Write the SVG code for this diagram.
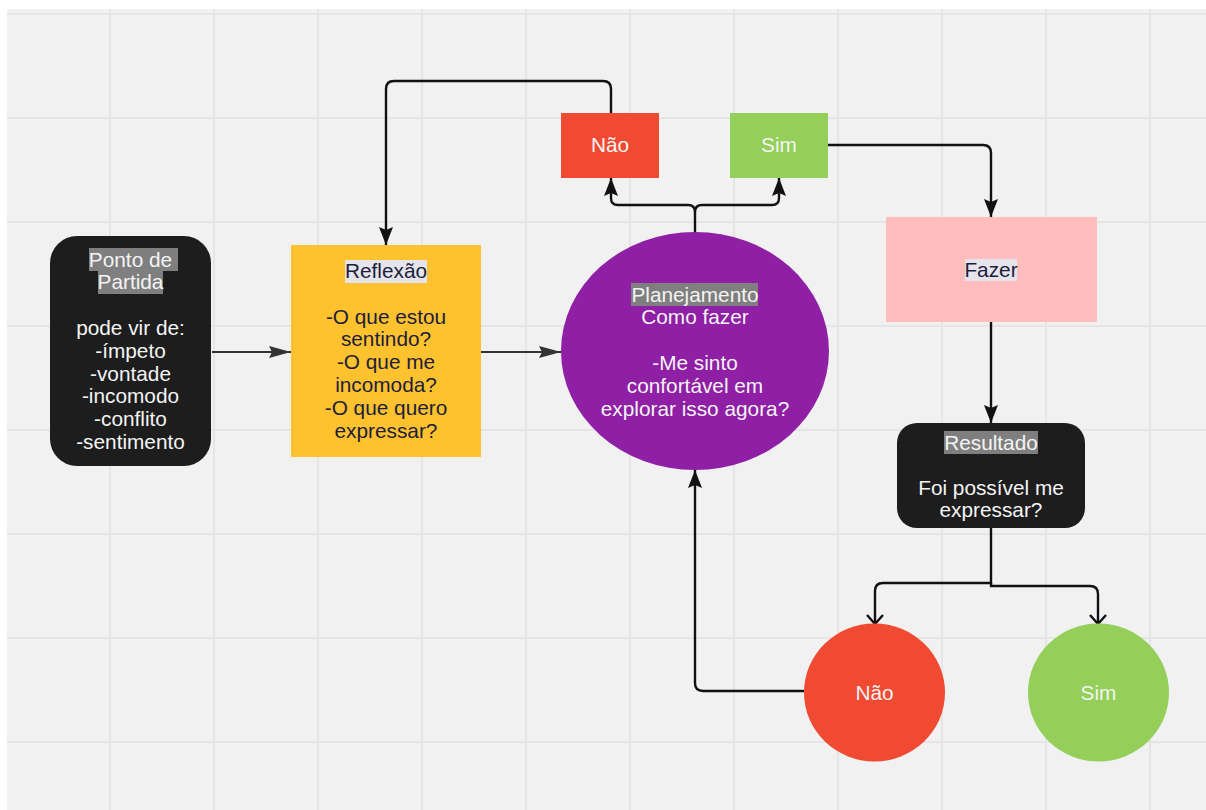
<svg xmlns="http://www.w3.org/2000/svg" width="1206" height="810" viewBox="0 0 1206 810">
<style>
.t{font-family:"Liberation Sans",Arial,sans-serif;font-size:20.8px;text-anchor:middle}
.w{fill:#f4f4f4}
.d{fill:#1d1d3d}
.grid{stroke:#e5e5e5;stroke-width:2}
.c{fill:none;stroke:#111;stroke-width:2.4}
.cg{fill:none;stroke:#333;stroke-width:2.2}
.hg{fill:#7f7f7f}
.hl{fill:#e4e4ea}
</style>
<defs>
<marker id="af" markerUnits="userSpaceOnUse" viewBox="0 0 18 14" refX="18" refY="7" markerWidth="18" markerHeight="14" orient="auto">
<path d="M0,0 L18,7 L0,14 L3,7 z" fill="#111"/>
</marker>
<marker id="ag" markerUnits="userSpaceOnUse" viewBox="0 0 22 12" refX="22" refY="6" markerWidth="22" markerHeight="12" orient="auto">
<path d="M0,0 L22,6 L0,12 L3,6 z" fill="#333"/>
</marker>
<marker id="ao" markerUnits="userSpaceOnUse" viewBox="0 0 12 18" refX="10" refY="9" markerWidth="12" markerHeight="18" orient="auto">
<path d="M1,1 L10,9 L1,17" fill="none" stroke="#111" stroke-width="2.4"/>
</marker>
</defs>
<rect x="0" y="0" width="1206" height="810" fill="#ffffff"/>
<rect x="7" y="9" width="1199" height="801" fill="#f1f1f1"/>
<g id="grid">
<path class="grid" d="M110,9V810M214,9V810M318,9V810M422,9V810M526,9V810M630,9V810M734,9V810M838,9V810M942,9V810M1046,9V810M1150,9V810"/>
<path class="grid" d="M7,14H1206M7,118H1206M7,222H1206M7,326H1206M7,430H1206M7,534H1206M7,638H1206M7,742H1206"/>
</g>
<g id="connectors">
<path class="cg" d="M212,352 H291" marker-end="url(#ag)"/>
<path class="cg" d="M481,352 H561" marker-end="url(#ag)"/>
<path class="c" d="M695,232 V212 Q695,205 688,205 H618 Q611,205 611,198 V178" marker-end="url(#af)"/>
<path class="c" d="M695,212 Q695,205 702,205 H772 Q779,205 779,198 V178" marker-end="url(#af)"/>
<path class="c" d="M611,113 V89 Q611,81 603,81 H394 Q386,81 386,89 V245" marker-end="url(#af)"/>
<path class="c" d="M828,145 H983 Q991,145 991,153 V217" marker-end="url(#af)"/>
<path class="c" d="M991,322 V423" marker-end="url(#af)"/>
<path class="c" d="M991,528 V583 H883 Q875,583 875,591 V624" marker-end="url(#ao)"/>
<path class="c" d="M991,583 V586 H1090 Q1098,586 1098,594 V624" marker-end="url(#ao)"/>
<path class="c" d="M804,691 H703 Q695,691 695,683 V470" marker-end="url(#af)"/>
</g>
<g id="ponto">
<rect x="50" y="236" width="161" height="230" rx="27" fill="#1d1d1d"/>
<rect class="hg" x="89" y="248" width="89" height="23"/>
<rect class="hg" x="98" y="271" width="65" height="23"/>
<text class="t w"><tspan x="130.5" y="266.5">Ponto de</tspan><tspan x="130.5" y="289.3">Partida</tspan><tspan x="130.5" y="334.9">pode vir de:</tspan><tspan x="130.5" y="357.7">-ímpeto</tspan><tspan x="130.5" y="380.5">-vontade</tspan><tspan x="130.5" y="403.3">-incomodo</tspan><tspan x="130.5" y="426.1">-conflito</tspan><tspan x="130.5" y="448.9">-sentimento</tspan></text>
</g>
<g id="reflexao">
<rect x="291" y="245" width="190" height="212" fill="#fdc22d"/>
<rect class="hl" x="345" y="260" width="82" height="23"/>
<text class="t d"><tspan x="386" y="278">Reflexão</tspan><tspan x="386" y="323.6">-O que estou</tspan><tspan x="386" y="346.4">sentindo?</tspan><tspan x="386" y="369.2">-O que me</tspan><tspan x="386" y="392">incomoda?</tspan><tspan x="386" y="414.8">-O que quero</tspan><tspan x="386" y="437.6">expressar?</tspan></text>
</g>
<g id="planejamento">
<ellipse cx="695" cy="351" rx="134" ry="119" fill="#8f1fa4"/>
<rect class="hg" x="631" y="283" width="127" height="23"/>
<text class="t w"><tspan x="695" y="301.5">Planejamento</tspan><tspan x="695" y="324.3">Como fazer</tspan><tspan x="695" y="369.9">-Me sinto</tspan><tspan x="695" y="392.7">confortável em</tspan><tspan x="695" y="415.5">explorar isso agora?</tspan></text>
</g>
<g id="nao-top">
<rect x="561" y="113" width="98" height="65" fill="#f04a32"/>
<text class="t w" x="610" y="151.5">Não</text>
</g>
<g id="sim-top">
<rect x="730" y="113" width="98" height="65" fill="#93cf59"/>
<text class="t w" x="779" y="151.5">Sim</text>
</g>
<g id="fazer">
<rect x="886" y="217" width="211" height="105" fill="#ffbdbd"/>
<rect class="hl" x="965" y="259" width="52" height="22"/>
<text class="t d" x="991" y="277">Fazer</text>
</g>
<g id="resultado">
<rect x="897" y="423" width="188" height="105" rx="20" fill="#1d1d1d"/>
<rect class="hg" x="944" y="431" width="94" height="23"/>
<text class="t w"><tspan x="991" y="449.5">Resultado</tspan><tspan x="991" y="494.5">Foi possível me</tspan><tspan x="991" y="517">expressar?</tspan></text>
</g>
<g id="nao-bottom">
<ellipse cx="874.5" cy="692.5" rx="70.5" ry="69" fill="#f04a32"/>
<text class="t w" x="874.5" y="700">Não</text>
</g>
<g id="sim-bottom">
<ellipse cx="1098.5" cy="692.5" rx="70.5" ry="69" fill="#93cf59"/>
<text class="t w" x="1098.5" y="700">Sim</text>
</g>
</svg>
